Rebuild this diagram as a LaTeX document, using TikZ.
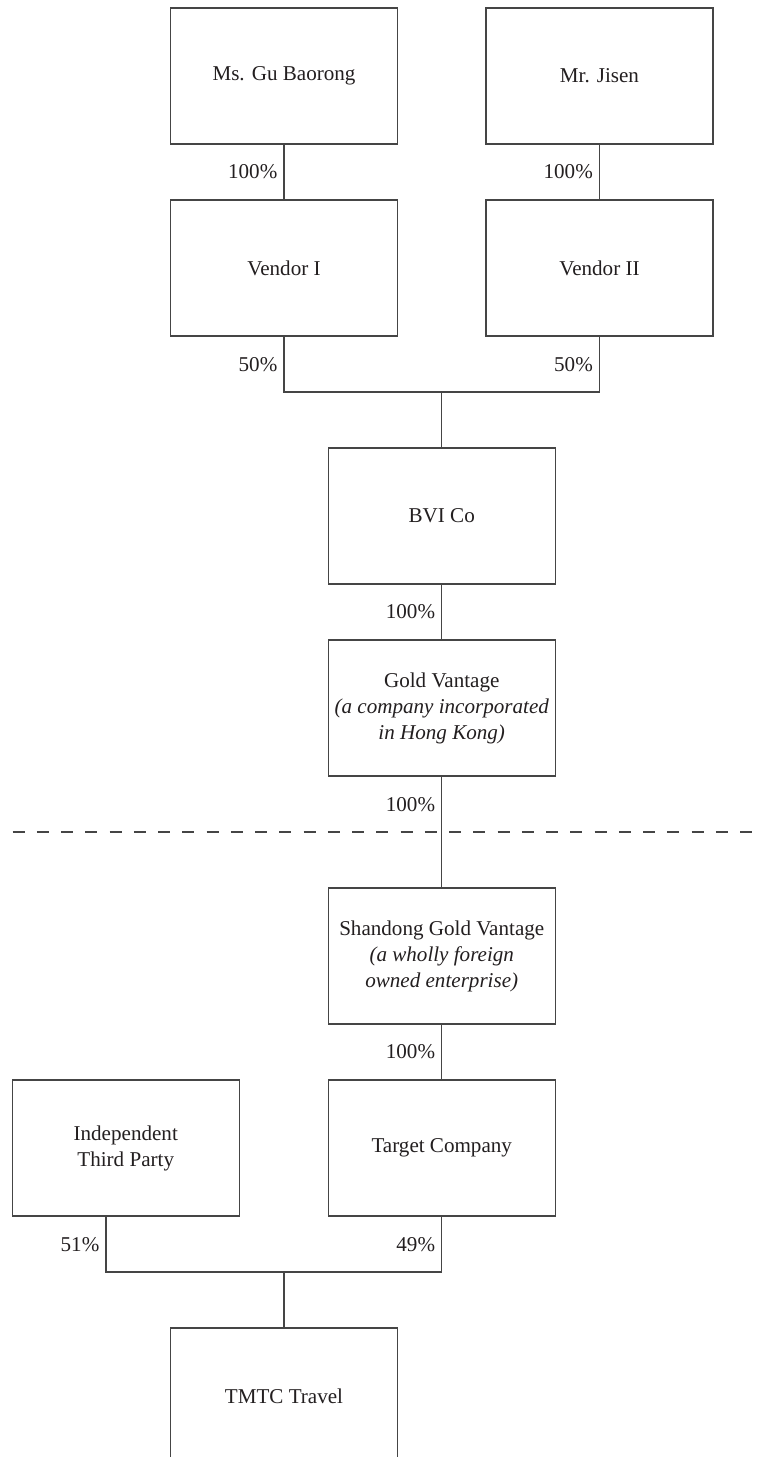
\documentclass[tikz,border=0pt]{standalone}
\usepackage{fontspec}
\setmainfont{Liberation Serif}
\usetikzlibrary{calc, positioning}
\definecolor{inkgray}{HTML}{231F20}
\definecolor{rulegray}{HTML}{454545}

\begin{document}
\begin{tikzpicture}[
    every node/.style={text=inkgray, font=\fontsize{12}{14.8}\selectfont},
    ownbox/.style={draw=rulegray, line width=0.6pt, fill=white,
                   minimum width=4.54cm, minimum height=2.72cm,
                   inner sep=0pt, align=center},
    ownline/.style={draw=rulegray, line width=0.6pt},
    pctlabel/.style={left, inner sep=3.5pt},
  ]

  % Page frame
  \useasboundingbox (0,0) rectangle (15.2,-29.14);
  \clip (0,0) rectangle (15.2,-29.14);

  % Nodes
  \node[ownbox] (gu)       at (5.68,-1.52)   {Ms. Gu Baorong};
  \node[ownbox] (jisen)    at (11.99,-1.52)  {Mr. Jisen};
  \node[ownbox] (vendorI)  at (5.68,-5.36)   {Vendor I};
  \node[ownbox] (vendorII) at (11.99,-5.36)  {Vendor II};
  \node[ownbox] (bvi)      at (8.835,-10.32) {BVI Co};
  \node[ownbox] (gold)     at (8.835,-14.16)
    {Gold Vantage\\\textit{(a company incorporated}\\\textit{in Hong Kong)}};
  \node[ownbox] (shandong) at (8.835,-19.12)
    {Shandong Gold Vantage\\\textit{(a wholly foreign}\\\textit{owned enterprise)}};
  \node[ownbox] (indep)    at (2.515,-22.96) {Independent\\Third Party};
  \node[ownbox] (target)   at (8.835,-22.96) {Target Company};
  \node[ownbox] (tmtc)     at (5.68,-27.92)  {TMTC Travel};

  % Junction points
  \coordinate (join1) at (8.835,-7.84);
  \coordinate (join2) at (5.68,-25.44);
  \coordinate (indepout) at ([xshift=-3.95mm]indep.south);
  \coordinate (cutL) at (0.254,-16.64);
  \coordinate (cutR) at (15.08,-16.64);

  % Owners -> vendors (100%)
  \draw[ownline] (gu) -- (vendorI)
    node[midway, pctlabel] {100\%};
  \draw[ownline] (jisen) -- (vendorII)
    node[midway, pctlabel] {100\%};

  % Vendors -> BVI Co (50% each)
  \draw[ownline] (vendorI.south) |- (join1)
    node[pos=0.25, pctlabel] {50\%};
  \draw[ownline] (join1) -| (vendorII.south)
    node[pos=0.75, pctlabel] {50\%};
  \draw[ownline] (join1) -- (bvi);

  % BVI Co -> Gold Vantage (100%)
  \draw[ownline] (bvi) -- (gold)
    node[midway, pctlabel] {100\%};

  % Gold Vantage -> Shandong Gold Vantage (100%)
  \draw[ownline] (gold) -- (shandong)
    node[pos=0.25, pctlabel] {100\%};

  % Border line
  \draw[ownline, dash pattern=on 0.24cm off 0.245cm] (cutL) -- (cutR);

  % Shandong Gold Vantage -> Target Company (100%)
  \draw[ownline] (shandong) -- (target)
    node[midway, pctlabel] {100\%};

  % Third party and Target Company -> TMTC Travel (51% / 49%)
  \draw[ownline] (indepout) |- (join2)
    node[pos=0.25, pctlabel] {51\%};
  \draw[ownline] (join2) -| (target.south)
    node[pos=0.75, pctlabel] {49\%};
  \draw[ownline] (join2) -- (tmtc);

\end{tikzpicture}
\end{document}
